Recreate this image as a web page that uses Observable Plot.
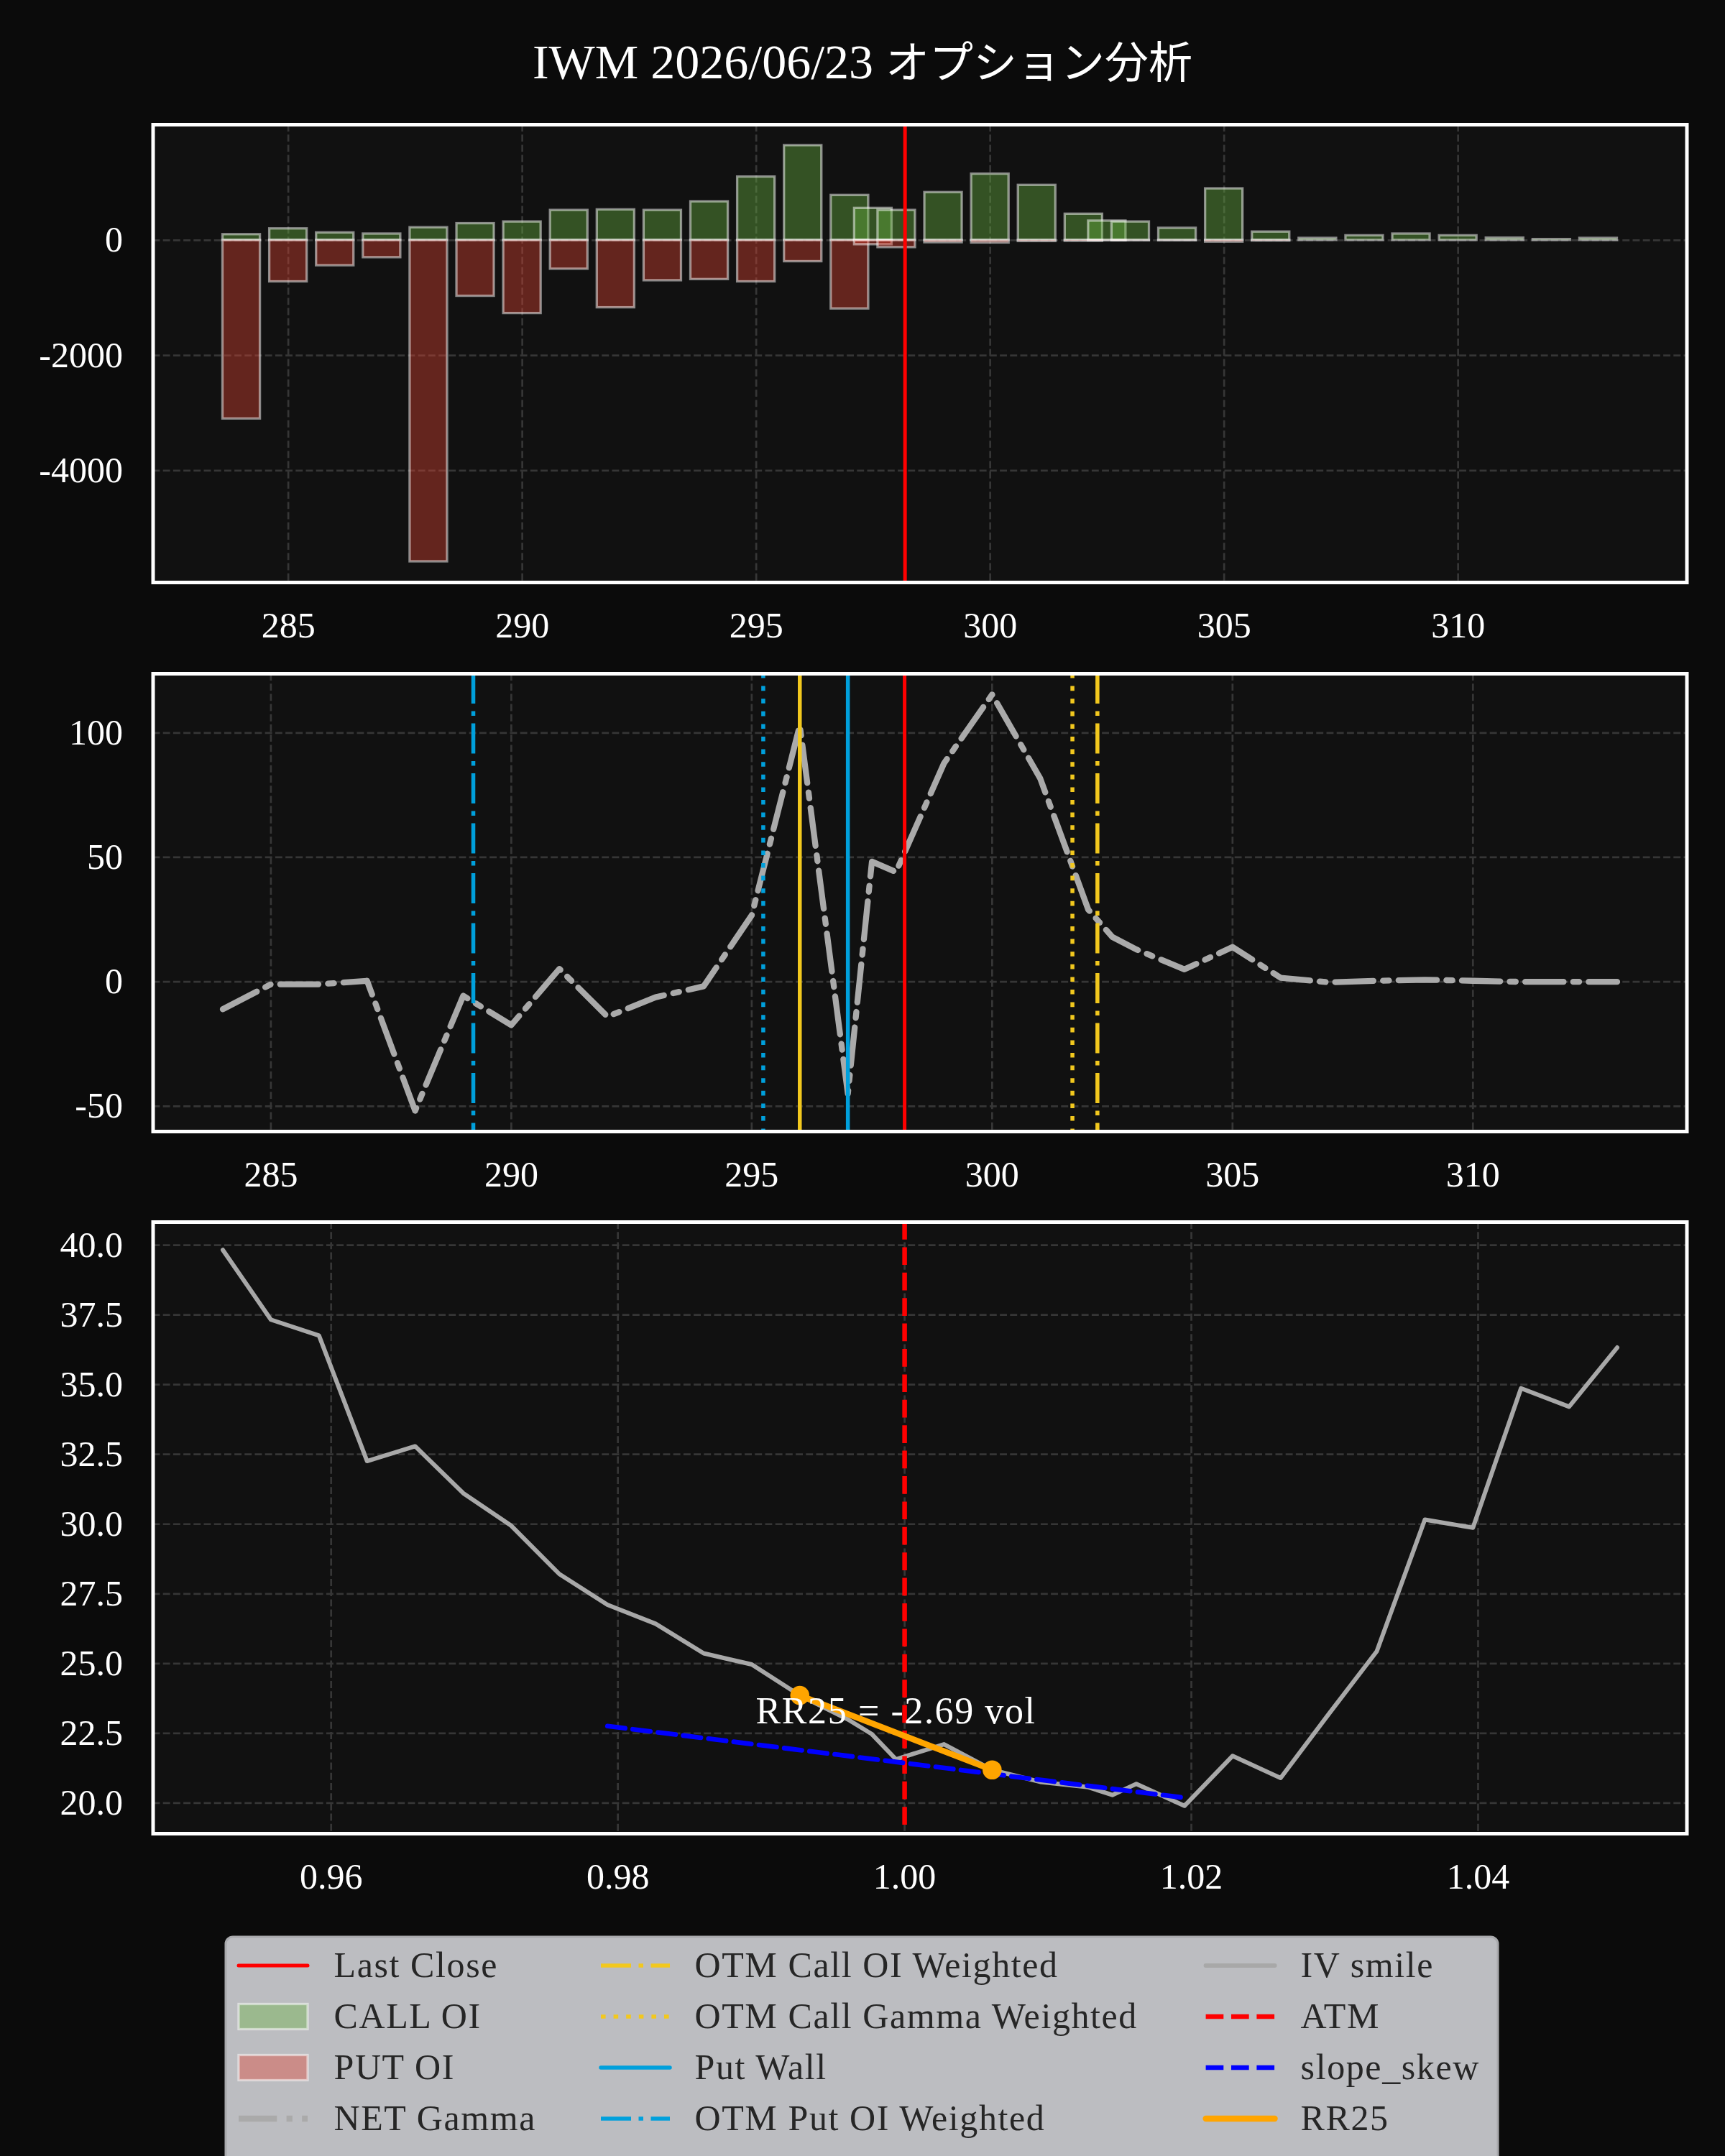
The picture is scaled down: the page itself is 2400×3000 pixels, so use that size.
<!DOCTYPE html>
<html>
<head>
<meta charset="utf-8">
<script src="https://cdn.jsdelivr.net/npm/d3@7"></script>
<script src="https://cdn.jsdelivr.net/npm/@observablehq/plot@0.6"></script>
<style>
  html, body { margin: 0; padding: 0; background: #0b0b0b; }
  body { width: 2400px; height: 3000px; position: relative; overflow: hidden;
         font-family: 'Liberation Serif', 'DejaVu Serif', 'Noto Sans CJK JP', serif; }
  .panel { position: absolute; left: 0; }
  #title, #legend { position: absolute; left: 0; }
</style>
</head>
<body>
<svg id="title" width="2400" height="150" style="top:0"></svg>
<div id="p1" class="panel"></div>
<div id="p2" class="panel"></div>
<div id="p3" class="panel"></div>
<svg id="legend" width="2400" height="400" style="top:2680px"></svg>
<script>
// ---------------- data ----------------
const titleLatin = "IWM 2026/06/23 ";
const titleCJK = "オプション分析";
const lastClose = 298.18;
const strikes = [284,285,286,287,288,289,290,291,292,293,294,295,296,297,297.5,298,299,300,301,302,302.5,303,304,305,306,307,308,309,310,311,312,313];
const callOI  = [100,200,130,110,220,290,320,520,530,520,670,1100,1645,780,555,520,830,1150,955,455,335,320,210,895,145,35,80,110,80,40,15,35];
const putOI   = [3100,720,440,300,5580,970,1270,500,1170,700,680,720,370,1190,75,125,40,45,20,15,5,5,5,30,10,0,0,0,0,0,0,0];
const netGamma = [-11,-1,-1,0.4,-51.8,-5.6,-17.4,5.2,-14,-6.2,-1.8,26.7,103,-45,48.3,44.1,87.8,115.4,81.7,29,18,13,5,14,1.6,-0.2,0.4,0.8,0.4,0,0,0];
const ivSmile = [39.83,37.33,36.76,32.26,32.79,31.11,29.94,28.21,27.11,26.43,25.37,24.97,23.86,23.0,22.47,21.57,22.11,21.19,20.76,20.57,20.29,20.69,19.90,21.69,20.9,23.19,25.44,30.16,29.87,34.87,34.21,36.33];
const levelNames  = ["Call Wall","OTM Call OI Weighted","OTM Call Gamma Weighted","Put Wall","OTM Put OI Weighted","OTM Put Gamma Weighted"];
const levelValues = [296, 302.19, 301.67, 297, 289.21, 295.24];
const skewStrikes = [292, 304];
const skewIV = [22.76, 20.19];
const rrStrikes = [296, 300];
const rrIV = [23.86, 21.19];
const rrLabel = "RR25 = -2.69 vol";
const strikeTicks = [285,290,295,300,305,310];
const oiTicks = [-4000,-2000,0];
const gammaTicks = [-50,0,50,100];
const ivTicks = [20,22.5,25,27.5,30,32.5,35,37.5,40];
const mnyTicks = [0.96,0.98,1.00,1.02,1.04];
const legendCols = [
  ["Last Close","CALL OI","PUT OI","NET Gamma"],
  ["OTM Call OI Weighted","OTM Call Gamma Weighted","Put Wall","OTM Put OI Weighted"],
  ["IV smile","ATM","slope_skew","RR25"]
];

// ---------------- styles ----------------
const FONT = "'Liberation Serif','DejaVu Serif','Noto Sans CJK JP',serif";
const W = 2400, ML = 212.5, MR = 2400 - 2346.5;
const GOLD = "#f2c81e", SKY = "#00a0dc";
const DASHDOT = "42,10.5,6.5,10.5", DOTTED = "6.6,11", DASHED = "24.7,10.7";
const levelStyle = {
  "Call Wall": {stroke: GOLD, dash: null},
  "OTM Call OI Weighted": {stroke: GOLD, dash: DASHDOT},
  "OTM Call Gamma Weighted": {stroke: GOLD, dash: DOTTED},
  "Put Wall": {stroke: SKY, dash: null},
  "OTM Put OI Weighted": {stroke: SKY, dash: DASHDOT},
  "OTM Put Gamma Weighted": {stroke: SKY, dash: DOTTED}
};
const gridStyle = {stroke: "#363636", strokeOpacity: 1, strokeWidth: 2.7, strokeDasharray: "9.9,4.3"};
const baseStyle = {background: "transparent", color: "white", fontFamily: FONT, fontSize: "50px", overflow: "visible"};
function pad(lo, hi) { const r = hi - lo; return [lo - 0.05 * r, hi + 0.05 * r]; }
function place(id, svg, top) { const el = document.getElementById(id); el.style.top = top + "px"; el.append(svg); }
const axX = (ticks, fmt) => Plot.axisX(ticks, {tickSize: 0, tickPadding: 41, fontSize: 50, tickFormat: fmt, label: null});
const axY = (ticks, fmt) => Plot.axisY(ticks, {tickSize: 0, tickPadding: 42, fontSize: 50, tickFormat: fmt, label: null});

// ---------------- title ----------------
const tt = d3.select("#title").append("text")
  .attr("x", 1200).attr("y", 109).attr("text-anchor", "middle")
  .attr("fill", "white").attr("font-size", 68).attr("font-family", FONT);
tt.append("tspan").text(titleLatin);
tt.append("tspan").attr("font-size", 61).text(titleCJK);

// ---------------- panel 1: OI ----------------
const rows = strikes.map((s, i) => ({strike: s, call: callOI[i], put: -putOI[i], gamma: netGamma[i], iv: ivSmile[i], m: s / lastClose}));
const MT = 20, MB = 100;
const p1 = Plot.plot({
  width: W, height: MT + 637 + MB, marginTop: MT, marginBottom: MB, marginLeft: ML, marginRight: MR,
  style: baseStyle,
  x: {type: "linear", domain: pad(d3.min(strikes) - 0.4, d3.max(strikes) + 0.4), label: null},
  y: {domain: pad(d3.min(rows, d => d.put), d3.max(rows, d => d.call)), label: null},
  marks: [
    Plot.frame({fill: "#111111"}),
    Plot.gridX(strikeTicks, gridStyle),
    Plot.gridY(oiTicks, gridStyle),
    Plot.rect(rows, {x1: d => d.strike - 0.4, x2: d => d.strike + 0.4, y1: 0, y2: "call",
      fill: "rgb(106,181,64)", fillOpacity: 0.4, stroke: "white", strokeOpacity: 0.5, strokeWidth: 3.3}),
    Plot.rect(rows, {x1: d => d.strike - 0.4, x2: d => d.strike + 0.4, y1: 0, y2: "put",
      fill: "rgb(226,68,51)", fillOpacity: 0.4, stroke: "white", strokeOpacity: 0.5, strokeWidth: 3.3}),
    Plot.ruleX([lastClose], {stroke: "#ff0000", strokeWidth: 5}),
    axX(strikeTicks, d => String(d)),
    axY(oiTicks, d => String(d)),
    Plot.frame({stroke: "white", strokeWidth: 5})
  ]
});
place("p1", p1, 173 - MT);

// ---------------- panel 2: NET Gamma ----------------
const levels = levelNames.map((n, i) => ({name: n, value: levelValues[i]}));
const p2 = Plot.plot({
  width: W, height: MT + 637 + MB, marginTop: MT, marginBottom: MB, marginLeft: ML, marginRight: MR,
  style: baseStyle,
  x: {type: "linear", domain: pad(d3.min(strikes), d3.max(strikes)), label: null},
  y: {domain: pad(d3.min(netGamma), d3.max(netGamma)), label: null},
  marks: [
    Plot.frame({fill: "#111111"}),
    Plot.gridX(strikeTicks, gridStyle),
    Plot.gridY(gammaTicks, gridStyle),
    Plot.line(rows, {x: "strike", y: "gamma", stroke: "#aaaaaa", strokeWidth: 8.3,
      strokeDasharray: "53.3,13.3,8.3,13.3", strokeLinejoin: "round"}),
    ...levels.map(l => Plot.ruleX([l.value], {stroke: levelStyle[l.name].stroke, strokeWidth: 5.5,
      strokeDasharray: levelStyle[l.name].dash || undefined})),
    Plot.ruleX([lastClose], {stroke: "#ff0000", strokeWidth: 5}),
    axX(strikeTicks, d => String(d)),
    axY(gammaTicks, d => String(d)),
    Plot.frame({stroke: "white", strokeWidth: 5})
  ]
});
place("p2", p2, 937 - MT);

// ---------------- panel 3: IV smile ----------------
const skew = skewStrikes.map((s, i) => ({m: s / lastClose, iv: skewIV[i]}));
const rr = rrStrikes.map((s, i) => ({m: s / lastClose, iv: rrIV[i]}));
const rrMid = [{m: d3.mean(rr, d => d.m), iv: d3.mean(rr, d => d.iv), label: rrLabel}];
const p3 = Plot.plot({
  width: W, height: MT + 851 + MB, marginTop: MT, marginBottom: MB, marginLeft: ML, marginRight: MR,
  style: baseStyle,
  x: {type: "linear", domain: pad(d3.min(rows, d => d.m), d3.max(rows, d => d.m)), label: null},
  y: {domain: pad(d3.min(ivSmile), d3.max(ivSmile)), label: null},
  marks: [
    Plot.frame({fill: "#111111"}),
    Plot.gridX(mnyTicks, gridStyle),
    Plot.gridY(ivTicks, gridStyle),
    Plot.line(rows, {x: "m", y: "iv", stroke: "#a8a8a8", strokeWidth: 6, strokeLinejoin: "round"}),
    Plot.ruleX([1.0], {stroke: "#ff0000", strokeWidth: 6.5, strokeDasharray: DASHED}),
    Plot.line(skew, {x: "m", y: "iv", stroke: "#0000ff", strokeWidth: 6.6, strokeDasharray: DASHED}),
    Plot.line(rr, {x: "m", y: "iv", stroke: "#ffa500", strokeWidth: 8.3}),
    Plot.dot(rr, {x: "m", y: "iv", fill: "#ffa500", r: 13.3}),
    Plot.text(rrMid, {x: "m", y: "iv", text: "label", fill: "white", fontSize: 52,
      textAnchor: "middle", lineAnchor: "middle", dy: -30, style: {letterSpacing: "1.6px"}}),
    axX(mnyTicks, d => d.toFixed(2)),
    axY(ivTicks, d => d.toFixed(1)),
    Plot.frame({stroke: "white", strokeWidth: 5})
  ]
});
place("p3", p3, 1700 - MT);
p3.querySelectorAll("text").forEach(t => { if (t.textContent === rrLabel) t.setAttribute("letter-spacing", "1.6"); });

// ---------------- legend ----------------
const lg = d3.select("#legend");
const BX = 314, BY = 15; // box origin within legend svg (legend svg top = 2680)
lg.append("rect").attr("x", BX).attr("y", BY).attr("width", 1770).attr("height", 420)
  .attr("rx", 10).attr("fill", "#bcbdc1").attr("stroke", "#a9aaad").attr("stroke-width", 3);
const colSwatchX = [18, 522, 1363.6];
const colTextX = [150.5, 652.5, 1495.6];
const rowMid = [40, 111, 182, 253];
const rowBase = [55.7, 126.7, 197.7, 268.7];
const sw = {
  "Last Close": {type: "line", stroke: "#ff0000", w: 5},
  "CALL OI": {type: "patch", fill: "rgb(106,181,64)"},
  "PUT OI": {type: "patch", fill: "rgb(226,68,51)"},
  "NET Gamma": {type: "line", stroke: "#aaaaaa", w: 8.3, dash: "53.3,13.3,8.3,13.3"},
  "OTM Call OI Weighted": {type: "line", stroke: GOLD, w: 5.5, dash: DASHDOT},
  "OTM Call Gamma Weighted": {type: "line", stroke: GOLD, w: 5.5, dash: DOTTED},
  "Put Wall": {type: "line", stroke: SKY, w: 5.5},
  "OTM Put OI Weighted": {type: "line", stroke: SKY, w: 5.5, dash: DASHDOT},
  "IV smile": {type: "line", stroke: "#a8a8a8", w: 6},
  "ATM": {type: "line", stroke: "#ff0000", w: 6.5, dash: DASHED},
  "slope_skew": {type: "line", stroke: "#0000ff", w: 6.6, dash: DASHED},
  "RR25": {type: "line", stroke: "#ffa500", w: 8.3}
};
legendCols.forEach((col, c) => {
  col.forEach((name, r) => {
    const s = sw[name];
    const x0 = BX + colSwatchX[c], y0 = BY + rowMid[r];
    if (s.type === "patch") {
      lg.append("rect").attr("x", x0).attr("y", y0 - 17.5).attr("width", 96).attr("height", 35)
        .attr("fill", "#bcbdc1");
      lg.append("rect").attr("x", x0).attr("y", y0 - 17.5).attr("width", 96).attr("height", 35)
        .attr("fill", s.fill).attr("fill-opacity", 0.4).attr("stroke", "white").attr("stroke-opacity", 0.5).attr("stroke-width", 3.3);
    } else {
      lg.append("line").attr("x1", x0).attr("x2", x0 + 96).attr("y1", y0).attr("y2", y0)
        .attr("stroke", s.stroke).attr("stroke-width", s.w)
        .attr("stroke-dasharray", s.dash || null)
        .attr("stroke-linecap", s.dash ? "butt" : "round");
    }
    lg.append("text").attr("x", BX + colTextX[c]).attr("y", BY + rowBase[r])
      .attr("fill", "#262626").attr("font-size", 50).attr("letter-spacing", 1.6)
      .attr("font-family", FONT).text(name);
  });
});
</script>
</body>
</html>
